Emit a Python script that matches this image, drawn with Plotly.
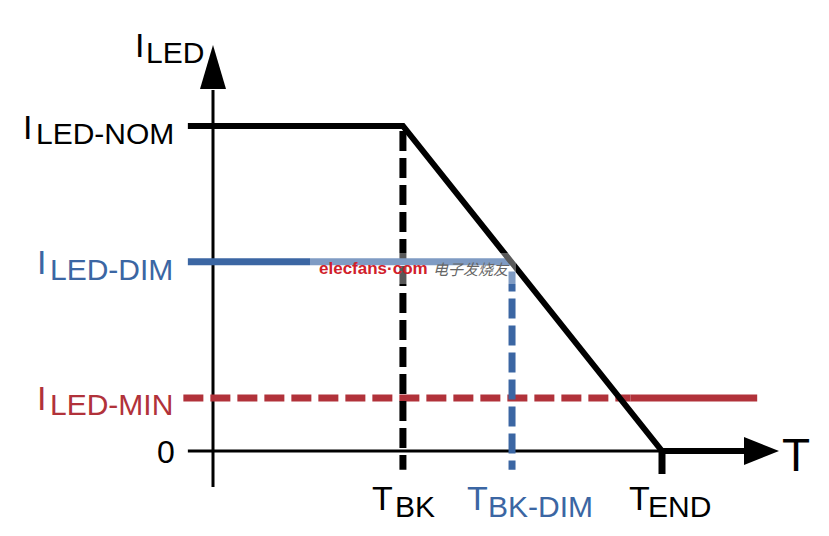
import plotly.graph_objects as go

# ---- data (diagram values, arbitrary units) ----
T_BK = 42.3        # break temperature
T_BK_DIM = 66.6    # break temperature (dimmed)
T_END = 100.0      # end temperature
I_NOM = 100.0      # nominal LED current
I_DIM = 58.2       # dimmed LED current
I_MIN = 16.3       # minimum LED current

T_LEFT = -5.6      # where the left level lines start
T_RIGHT = 118.5    # end of profile along the T axis
T_MIN_END = 121.2  # end of I_MIN line
T_MIN_SOLID = 93.0 # I_MIN dashed -> solid transition
I_TICK = -5.8      # bottom of the dashed drop lines

profile_T = [T_LEFT, T_BK, T_END, T_RIGHT]
profile_I = [I_NOM, I_NOM, 0, 0]

BLACK = "#000000"
BLUE = "#3B66A3"
RED = "#B1323A"

W, H = 829, 536
OX, OY = 213, 451       # pixel position of origin
SX, SY = 4.49, 3.25     # px per unit

def X(px):
    return (px - OX) / SX

def Y(py):
    return (OY - py) / SY

fig = go.Figure()

# axes lines
fig.add_trace(go.Scatter(x=[0, 0], y=[Y(487), Y(90)], mode="lines",
                         line=dict(color=BLACK, width=3), hoverinfo="skip"))
fig.add_trace(go.Scatter(x=[T_LEFT, X(750)], y=[0, 0], mode="lines",
                         line=dict(color=BLACK, width=3), hoverinfo="skip"))

# T_END tick
fig.add_trace(go.Scatter(x=[T_END, T_END], y=[0, Y(474)], mode="lines",
                         line=dict(color=BLACK, width=7), hoverinfo="skip"))

# I_MIN: dashed then solid
fig.add_trace(go.Scatter(x=[T_LEFT - 1, T_MIN_SOLID], y=[I_MIN, I_MIN], mode="lines",
                         line=dict(color=RED, width=7, dash="20px,7px"), hoverinfo="skip"))
fig.add_trace(go.Scatter(x=[T_MIN_SOLID, T_MIN_END], y=[I_MIN, I_MIN], mode="lines",
                         line=dict(color=RED, width=7), hoverinfo="skip"))

# T_BK dashed drop
fig.add_trace(go.Scatter(x=[T_BK, T_BK], y=[I_NOM - 1.5, I_TICK], mode="lines",
                         line=dict(color=BLACK, width=7, dash="20px,7px"), hoverinfo="skip"))

# I_DIM level and T_BK_DIM dashed drop
fig.add_trace(go.Scatter(x=[T_LEFT, T_BK_DIM], y=[I_DIM, I_DIM], mode="lines",
                         line=dict(color=BLUE, width=7), hoverinfo="skip"))
fig.add_trace(go.Scatter(x=[T_BK_DIM, T_BK_DIM], y=[I_DIM - 3, I_TICK], mode="lines",
                         line=dict(color=BLUE, width=7, dash="20px,7px"), hoverinfo="skip"))

# thermal foldback profile
fig.add_trace(go.Scatter(x=profile_T, y=profile_I, mode="lines",
                         line=dict(color=BLACK, width=6), hoverinfo="skip"))

shapes = [
    # vertical arrow head
    dict(type="path", xref="x", yref="y", layer="above",
         path=f"M 0,{Y(45)} L {X(200)},{Y(89)} L {X(226)},{Y(89)} Z",
         fillcolor=BLACK, line=dict(width=0)),
    # horizontal arrow head
    dict(type="path", xref="x", yref="y", layer="above",
         path=f"M {X(779)},0 L {X(744)},{Y(437)} L {X(744)},{Y(465)} Z",
         fillcolor=BLACK, line=dict(width=0)),
    # watermark haze
    dict(type="rect", xref="x", yref="y", layer="above",
         x0=X(310), x1=X(516), y0=Y(253), y1=Y(284),
         fillcolor="rgba(255,255,255,0.35)", line=dict(width=0)),
]

FONT = "Arial, Liberation Sans, sans-serif"
ann = []

def label(text, left_px, cy_px, size, color):
    ann.append(dict(text=text, x=X(left_px), y=Y(cy_px), xref="x", yref="y",
                    xanchor="left", yanchor="middle", showarrow=False,
                    font=dict(family=FONT, size=size, color=color)))

BIG, SUB = 34, 30
# I_LED axis title
label("I", 133, 45, BIG, BLACK)
label("LED", 144, 52, SUB, BLACK)
# left labels
label("I", 21, 126.5, BIG, BLACK)
label("LED-NOM", 34, 133, SUB, BLACK)
label("I", 35, 262, BIG, BLUE)
label("LED-DIM", 48, 269, SUB, BLUE)
label("I", 35, 397.5, BIG, RED)
label("LED-MIN", 48, 404.5, SUB, RED)
label("0", 155, 451.5, 32, BLACK)
# bottom labels
label("T", 370, 497.5, BIG, BLACK)
label("BK", 393, 506.5, SUB, BLACK)
label("T", 465, 497.5, BIG, BLUE)
label("BK-DIM", 486, 506.5, SUB, BLUE)
label("T", 627, 497.5, BIG, BLACK)
label("END", 646, 506.5, SUB, BLACK)
# T axis title
label("T", 780, 455, 46, BLACK)

# watermark
ann.append(dict(text="<b>elecfans·com</b>", x=X(317), y=Y(268), xref="x", yref="y",
                xanchor="left", yanchor="middle", showarrow=False,
                font=dict(family=FONT, size=17, color="#D0202A")))
ann.append(dict(text="<i>电子发烧友</i>", x=X(431), y=Y(268), xref="x", yref="y",
                xanchor="left", yanchor="middle", showarrow=False,
                font=dict(family="Noto Sans CJK SC", size=15, color="#666666")))

fig.update_layout(
    width=W, height=H,
    margin=dict(l=0, r=0, t=0, b=0),
    paper_bgcolor="white", plot_bgcolor="white",
    showlegend=False,
    xaxis=dict(range=[X(0), X(W)], visible=False, fixedrange=True),
    yaxis=dict(range=[Y(H), Y(0)], visible=False, fixedrange=True),
    shapes=shapes,
    annotations=ann,
)

fig.write_html("out.html", config={"displayModeBar": False},
               post_script="document.body.style.margin='0';document.body.style.padding='0';")
